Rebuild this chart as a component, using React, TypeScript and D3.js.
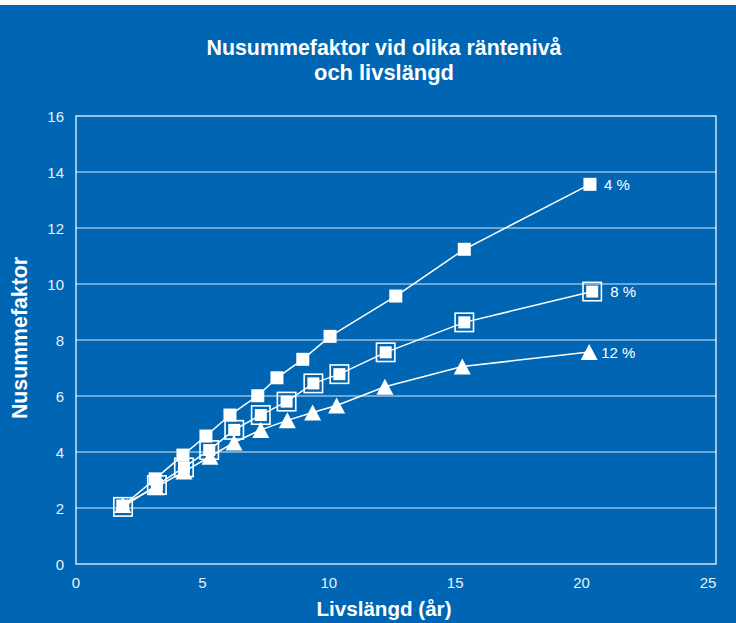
import React from "react";
import * as d3 from "d3";

// Nusummefaktor per livslängd for three interest levels
const years4 = [1.85, 3.13, 4.23, 5.14, 6.09, 7.19, 7.95, 8.97, 10.05, 12.65, 15.36, 20.33];
const factor4 = [2.07, 3.04, 3.89, 4.57, 5.32, 6.01, 6.65, 7.31, 8.13, 9.57, 11.24, 13.56];

const years8 = [1.86, 3.2, 4.27, 5.27, 6.26, 7.31, 8.33, 9.39, 10.42, 12.25, 15.36, 20.42];
const factor8 = [2.04, 2.82, 3.45, 4.07, 4.79, 5.32, 5.8, 6.45, 6.78, 7.56, 8.63, 9.73];

const years12 = [1.85, 3.16, 4.27, 5.3, 6.25, 7.31, 8.36, 9.36, 10.31, 12.22, 15.28, 20.3];
const factor12 = [2.11, 2.74, 3.3, 3.83, 4.34, 4.79, 5.13, 5.41, 5.66, 6.33, 7.05, 7.57];

const seriesNames = ["4 %", "8 %", "12 %"];
const xTicks = [0, 5, 10, 15, 20, 25];
const yTicks = [0, 2, 4, 6, 8, 10, 12, 14, 16];

const W = 736;
const H = 623;
const BG = "#0066b3";
const plot = { left: 76, right: 716, top: 116, bottom: 564 };

const x = d3.scaleLinear().domain([0, 25]).range([plot.left, 708]);
const y = d3.scaleLinear().domain([0, 16]).range([plot.bottom, plot.top]);

type Pt = [number, number];
const zip = (xs: number[], ys: number[]): Pt[] => xs.map((v, i) => [v, ys[i]]);

const line = d3
  .line<Pt>()
  .x((d) => x(d[0]))
  .y((d) => y(d[1]));

const font = "'Liberation Sans', Arial, Helvetica, sans-serif";

function Square({ cx, cy }: { cx: number; cy: number }) {
  const s = 13;
  return <rect x={cx - s / 2} y={cy - s / 2} width={s} height={s} fill="#fff" />;
}

function BoxedSquare({ cx, cy }: { cx: number; cy: number }) {
  const o = 18.4;
  const s = 12;
  return (
    <g>
      <rect x={cx - o / 2} y={cy - o / 2} width={o} height={o} fill="none" stroke="#fff" strokeWidth={1.6} />
      <rect x={cx - s / 2} y={cy - s / 2} width={s} height={s} fill="#fff" />
    </g>
  );
}

function Triangle({ cx, cy }: { cx: number; cy: number }) {
  const w = 17;
  const h = 16;
  const p = d3.path();
  p.moveTo(cx, cy - h / 2);
  p.lineTo(cx + w / 2, cy + h / 2);
  p.lineTo(cx - w / 2, cy + h / 2);
  p.closePath();
  return <path d={p.toString()} fill="#fff" />;
}

function Heading(props: {
  x: number;
  y: number;
  len: number;
  size?: number;
  children: string;
  transform?: string;
}) {
  return (
    <text
      x={props.x}
      y={props.y}
      transform={props.transform}
      textAnchor="middle"
      fill="#fff"
      fontFamily={font}
      fontWeight="bold"
      fontSize={props.size ?? 22}
      textLength={props.len}
      lengthAdjust="spacingAndGlyphs"
    >
      {props.children}
    </text>
  );
}

export default function App() {
  const s4 = zip(years4, factor4);
  const s8 = zip(years8, factor8);
  const s12 = zip(years12, factor12);

  const last4 = s4[s4.length - 1];
  const last8 = s8[s8.length - 1];
  const last12 = s12[s12.length - 1];

  return (
    <svg
      width={W}
      height={H}
      viewBox={`0 0 ${W} ${H}`}
      style={{ position: "absolute", left: 0, top: 0, display: "block" }}
    >
      <rect x={0} y={0} width={W} height={H} fill="#fff" />
      <rect x={0} y={5} width={W} height={H - 5} fill={BG} />

      {/* title */}
      <Heading x={384} y={55} len={355}>
        Nusummefaktor vid olika räntenivå
      </Heading>
      <Heading x={384} y={80} len={140}>
        och livslängd
      </Heading>

      {/* gridlines */}
      {yTicks.slice(1, -1).map((t) => (
        <line
          key={t}
          x1={plot.left}
          x2={plot.right}
          y1={y(t)}
          y2={y(t)}
          stroke="#fff"
          strokeOpacity={0.85}
          strokeWidth={1.2}
        />
      ))}
      <rect
        x={plot.left}
        y={plot.top}
        width={plot.right - plot.left}
        height={plot.bottom - plot.top}
        fill="none"
        stroke="#fff"
        strokeWidth={1.2}
      />

      {/* y tick labels */}
      {yTicks.map((t) => (
        <text
          key={t}
          x={64}
          y={y(t)}
          textAnchor="end"
          dominantBaseline="central"
          fill="#e8f0f8"
          fontFamily={font}
          fontSize={15}
        >
          {t}
        </text>
      ))}

      {/* x tick labels */}
      {xTicks.map((t) => (
        <text
          key={t}
          x={x(t)}
          y={582}
          textAnchor="middle"
          dominantBaseline="central"
          fill="#e8f0f8"
          fontFamily={font}
          fontSize={15}
        >
          {t}
        </text>
      ))}

      {/* axis titles */}
      <Heading x={384} y={616} len={135} size={21}>
        Livslängd (år)
      </Heading>
      <Heading x={0} y={0} len={162} transform="translate(27,338) rotate(-90)">
        Nusummefaktor
      </Heading>

      {/* series lines */}
      {[s4, s8, s12].map((s, i) => (
        <path key={i} d={line(s) ?? ""} fill="none" stroke="#fff" strokeWidth={1.5} />
      ))}

      {/* markers */}
      {s4.map((d, i) => (
        <Square key={`a${i}`} cx={x(d[0])} cy={y(d[1])} />
      ))}
      {s8.map((d, i) => (
        <BoxedSquare key={`b${i}`} cx={x(d[0])} cy={y(d[1])} />
      ))}
      {s12.map((d, i) => (
        <Triangle key={`c${i}`} cx={x(d[0])} cy={y(d[1])} />
      ))}

      {/* series labels */}
      <text x={x(last4[0]) + 14} y={y(last4[1])} dominantBaseline="central" fill="#fff" fontFamily={font} fontSize={15}>
        {seriesNames[0]}
      </text>
      <text x={x(last8[0]) + 18} y={y(last8[1])} dominantBaseline="central" fill="#fff" fontFamily={font} fontSize={15}>
        {seriesNames[1]}
      </text>
      <text x={x(last12[0]) + 12} y={y(last12[1])} dominantBaseline="central" fill="#fff" fontFamily={font} fontSize={15}>
        {seriesNames[2]}
      </text>
    </svg>
  );
}
